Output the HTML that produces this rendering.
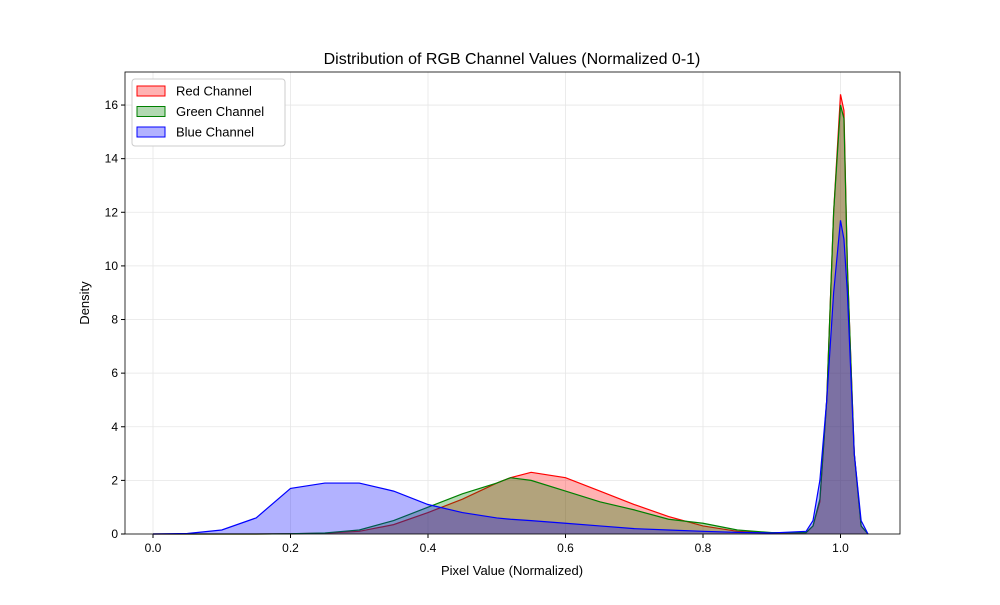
<!DOCTYPE html>
<html><head><meta charset="utf-8"><style>
body{margin:0;background:#fff;font-family:"Liberation Sans",sans-serif}
svg text{font-family:"Liberation Sans",sans-serif}
</style></head><body>
<svg id="c" width="1000" height="600"></svg>
<script>
const xGrid=[0.0,0.05,0.1,0.15,0.2,0.25,0.3,0.35,0.4,0.45,0.5,0.52,0.55,0.6,0.65,0.7,0.75,0.8,0.85,0.9,0.95,0.96,0.97,0.98,0.99,1.0,1.005,1.01,1.02,1.03,1.04];
const redVals=[0,0,0,0,0.01,0.03,0.1,0.35,0.8,1.3,1.9,2.1,2.3,2.1,1.6,1.1,0.65,0.3,0.1,0.03,0.05,0.3,1.2,5,12,16.4,15.8,10,3,0.3,0];
const greenVals=[0,0,0,0,0.01,0.04,0.15,0.5,1.0,1.5,1.9,2.1,2.0,1.6,1.2,0.9,0.55,0.4,0.15,0.05,0.05,0.3,1.3,5,12,16,15.5,10,3,0.3,0];
const blueVals=[0,0.02,0.15,0.6,1.7,1.9,1.9,1.6,1.1,0.8,0.6,0.55,0.5,0.4,0.3,0.2,0.15,0.1,0.06,0.04,0.1,0.5,2,5,9,11.7,11,9,3,0.5,0];
const xTicks=[0,0.2,0.4,0.6,0.8,1.0];
const yTicks=[0,2,4,6,8,10,12,14,16];
const series=[{name:"Red Channel",vals:redVals,c:"red",f:"rgba(255,0,0,0.3)",k:"red"},{name:"Green Channel",vals:greenVals,c:"green",f:"rgba(0,128,0,0.3)",k:"green"},{name:"Blue Channel",vals:blueVals,c:"blue",f:"rgba(0,0,255,0.3)",k:"blue"}];
const L=125,R=900,T=72,B=534;
const X=v=>153+v*687.5, Y=v=>534-v*26.81;
const s=document.getElementById('c');const NS="http://www.w3.org/2000/svg";
function el(t,a,p){const e=document.createElementNS(NS,t);for(const k in a)e.setAttribute(k,a[k]);(p||s).appendChild(e);return e;}
xTicks.forEach(t=>{const g=el('line',{x1:X(t),x2:X(t),y1:T,y2:B,stroke:'#e6e6e6','stroke-width':0.8});

el('line',{x1:X(t),x2:X(t),y1:B,y2:B+4,stroke:'#000'});
const tx=el('text',{x:X(t),y:B+18,'text-anchor':'middle','font-size':12});tx.textContent=t.toFixed(1);
});
yTicks.forEach(t=>{const g=el('line',{x1:L,x2:R,y1:Y(t),y2:Y(t),stroke:'#e6e6e6','stroke-width':0.8});

el('line',{x1:L-4,x2:L,y1:Y(t),y2:Y(t),stroke:'#000'});
const tx=el('text',{x:L-7,y:Y(t)+4,'text-anchor':'end','font-size':12});tx.textContent=t;
});
series.forEach(se=>{let d='M'+X(xGrid[0])+','+Y(0);xGrid.forEach((x,i)=>d+=' L'+X(x)+','+Y(se.vals[i]));d+=' L'+X(xGrid[xGrid.length-1])+','+Y(0)+'Z';
const a=el('path',{d:d,fill:se.f,stroke:'none'});
const l=el('polyline',{points:xGrid.map((x,i)=>X(x)+','+Y(se.vals[i])).join(' '),fill:'none',stroke:se.c,'stroke-width':1.2});
});
const fr=el('rect',{x:L,y:T,width:R-L,height:B-T,fill:'none',stroke:'#000','stroke-width':0.8});
const ti=el('text',{x:512,y:64,'text-anchor':'middle','font-size':16});ti.textContent='Distribution of RGB Channel Values (Normalized 0-1)';
const xl=el('text',{x:512,y:575,'text-anchor':'middle','font-size':13});xl.textContent='Pixel Value (Normalized)';
const yl=el('text',{x:89,y:303,'text-anchor':'middle','font-size':13,transform:'rotate(-90 89 303)'});yl.textContent='Density';
const lg=el('g',{});
el('rect',{x:132,y:79,width:153,height:67,fill:'#fff',stroke:'#ccc',rx:3},lg);
series.forEach((se,i)=>{const y=91+i*20.5;
const sw=el('rect',{x:137,y:y-5,width:28,height:10,fill:se.f,stroke:se.c},lg);
const t=el('text',{x:176,y:y+4.5,'font-size':13},lg);t.textContent=se.name;});
</script></body></html>
